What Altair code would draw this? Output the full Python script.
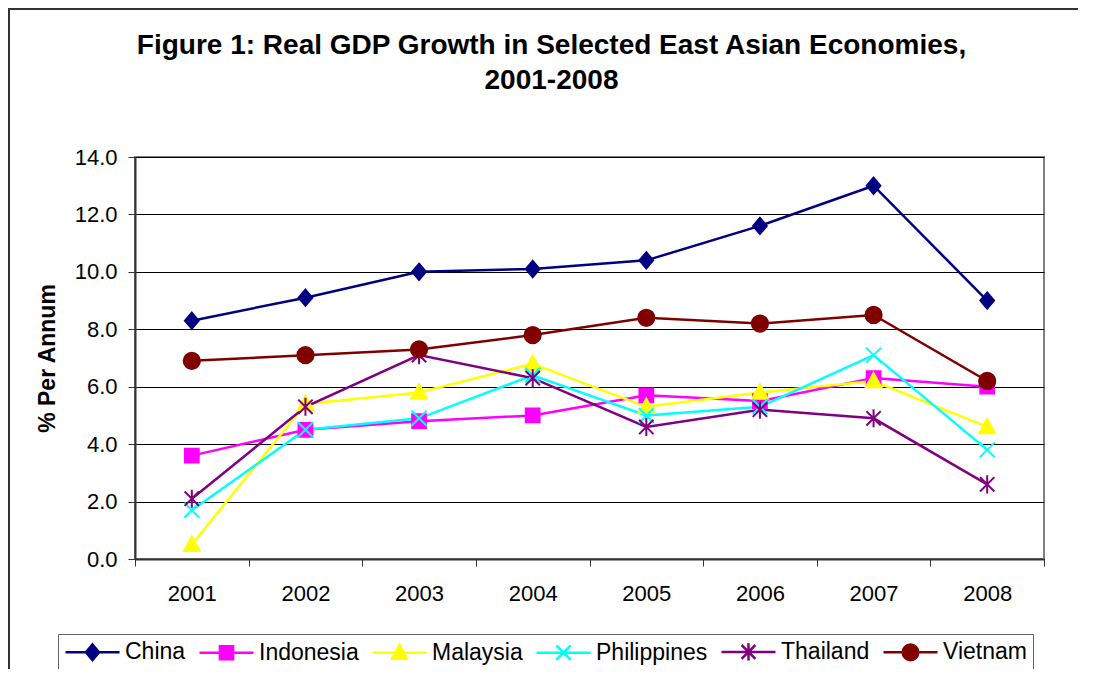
import altair as alt
import pandas as pd

# ---- data ----
years = ["2001", "2002", "2003", "2004", "2005", "2006", "2007", "2008"]
countries = ["China", "Indonesia", "Malaysia", "Philippines", "Thailand", "Vietnam"]
china = [8.3, 9.1, 10.0, 10.1, 10.4, 11.6, 13.0, 9.0]
indonesia = [3.6, 4.5, 4.8, 5.0, 5.7, 5.5, 6.3, 6.0]
malaysia = [0.5, 5.4, 5.8, 6.8, 5.3, 5.8, 6.2, 4.6]
philippines = [1.7, 4.5, 4.9, 6.4, 5.0, 5.3, 7.1, 3.8]
thailand = [2.1, 5.3, 7.1, 6.3, 4.6, 5.2, 4.9, 2.6]
vietnam = [6.9, 7.1, 7.3, 7.8, 8.4, 8.2, 8.5, 6.2]
y_ticks = [0, 2, 4, 6, 8, 10, 12, 14]
title_lines = ["Figure 1: Real GDP Growth in Selected East Asian Economies,", "2001-2008"]
y_title = "% Per Annum"

colors = ["#000080", "#FF00FF", "#FFFF00", "#00FFFF", "#800080", "#800000"]
FONT = "Arial, Liberation Sans, sans-serif"

series = [china, indonesia, malaysia, philippines, thailand, vietnam]
rows = []
for c, vals in zip(countries, series):
    for yr, v in zip(years, vals):
        rows.append({"Year": yr, "Country": c, "Growth": v})
df = pd.DataFrame(rows)

# ---- marker shapes (custom SVG paths, centred on mx) ----
def diamond(mx, s):
    return f"M{mx},{-1.3*s}L{mx+1.1*s},0L{mx},{1.3*s}L{mx-1.1*s},0Z"
def square(mx, s):
    a = 1.1 * s
    return f"M{mx-a},{-a}H{mx+a}V{a}H{mx-a}Z"
def triangle(mx, s):
    return f"M{mx},{-1.3*s}L{mx+1.25*s},{1.0*s}H{mx-1.25*s}Z"
def xmark(mx, s):
    a = 1.2 * s
    return f"M{mx-a},{-a}L{mx+a},{a}M{mx-a},{a}L{mx+a},{-a}"
def star(mx, s):
    a = 1.15 * s
    b = 1.45 * s
    return f"M{mx-a},{-a}L{mx+a},{a}M{mx-a},{a}L{mx+a},{-a}M{mx},{-b}V{b}"
def circle(mx, s):
    r = 1.3 * s
    return f"M{mx-r},0A{r},{r},0,1,1,{mx+r},0A{r},{r},0,1,1,{mx-r},0Z"

makers = [diamond, square, triangle, xmark, star, circle]
plot_shapes = [m(0, 1.0) for m in makers]
MX = 3.4
legend_shapes = ["M-2.0,0H8.8" + m(MX, 1.2) for m in makers]

x_enc = alt.X(
    "Year:O",
    sort=years,
    bandPosition=0.5,
    scale=alt.Scale(type="band", paddingInner=0, paddingOuter=0),
    axis=alt.Axis(
        title=None, labelAngle=0, tickBand="extent", tickSize=7, tickColor="#333333",
        domainColor="#333333", domainWidth=2, labelFontSize=22, labelFont=FONT,
        labelColor="black", labelPadding=17, grid=False,
    ),
)
y_enc = alt.Y(
    "Growth:Q",
    scale=alt.Scale(domain=[0, 14], nice=False),
    axis=alt.Axis(
        values=y_ticks, format=".1f", title=y_title, grid=True, gridColor="black",
        gridWidth=1, tickSize=7, tickColor="#333333", domainColor="#333333",
        domainWidth=2, labelFontSize=22, labelFont=FONT, labelColor="black",
        labelPadding=11, titleFontSize=23, titleFont=FONT, titleFontWeight="bold",
        titleColor="black", titlePadding=15,
    ),
)

base = alt.Chart(df)

lines = base.mark_line(strokeWidth=2.5).encode(
    x=x_enc, y=y_enc,
    color=alt.Color("Country:N", sort=countries,
                    scale=alt.Scale(domain=countries, range=colors), legend=None),
)

points = base.mark_point(filled=True, strokeWidth=2, size=156, opacity=1).encode(
    x=x_enc, y=y_enc,
    fill=alt.Fill("Country:N", scale=alt.Scale(domain=countries, range=colors), legend=None),
    stroke=alt.Stroke("Country:N", scale=alt.Scale(domain=countries, range=colors), legend=None),
    shape=alt.Shape("Country:N", scale=alt.Scale(domain=countries, range=plot_shapes), legend=None),
)

leg = alt.Legend(
    title=None, orient="none", legendX=-77, legendY=477, direction="horizontal",
    columns=6, symbolSize=100, symbolStrokeWidth=2.5, symbolOpacity=1,
    labelFontSize=23, labelFont=FONT, labelColor="black", labelOffset=38,
    labelLimit=0, columnPadding=8, padding=6, strokeColor="#666666",
    fillColor="white",
)

legend_layer = base.mark_point(filled=True, opacity=0, size=100).encode(
    x=x_enc, y=y_enc,
    fill=alt.Fill("Country:N", scale=alt.Scale(domain=countries, range=colors), legend=leg),
    stroke=alt.Stroke("Country:N", scale=alt.Scale(domain=countries, range=colors), legend=leg),
    shape=alt.Shape("Country:N", scale=alt.Scale(domain=countries, range=legend_shapes), legend=leg),
)

one = pd.DataFrame({"k": [0]})
border_top = alt.Chart(one).mark_rule(color="#333333", strokeWidth=2).encode(
    x=alt.value(-127), x2=alt.value(943), y=alt.value(-148)
)
border_left = alt.Chart(one).mark_rule(color="#333333", strokeWidth=2).encode(
    x=alt.value(-126), y=alt.value(-149), y2=alt.value(512)
)

chart = (
    alt.layer(border_top, border_left, lines, points, legend_layer)
    .resolve_scale(fill="independent", stroke="independent", shape="independent")
    .properties(
        width=909, height=402,
        title=alt.TitleParams(
            text=title_lines, fontSize=28, font=FONT, fontWeight="bold", color="black",
            anchor="middle", baseline="bottom", dx=-38, dy=136, lineHeight=35, offset=20,
        ),
        autosize=alt.AutoSizeParams(type="none"),
        padding={"left": 127, "top": 149, "right": 34, "bottom": 110},
    )
    .configure_view(stroke="#808080", strokeWidth=2)
)

chart.save("out.html", embed_options={"renderer": "svg", "actions": False})
